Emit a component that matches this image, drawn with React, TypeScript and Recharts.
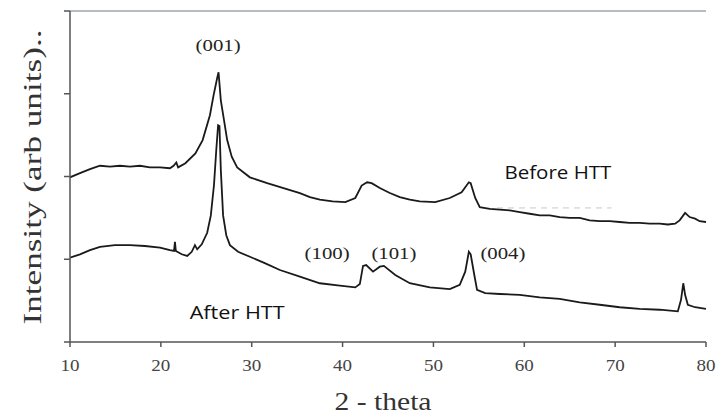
import React from 'react';
import { LineChart, Line, XAxis, YAxis, ReferenceLine, ReferenceDot } from 'recharts';

const xTicks = [10, 20, 30, 40, 50, 60, 70, 80];
const yTicks = [0, 1, 2, 3, 4];

const beforeTheta = [10, 11.1, 12.2, 13.3, 14.4, 15.5, 16.6, 17.7, 18.8, 19.9, 21.0, 21.4, 21.7, 21.9, 22.7, 23.8, 24.6, 25.4, 25.8, 26.2, 26.35, 26.6, 26.95, 27.3, 27.8, 28.4, 29.8, 31.7, 33.5, 35.3, 36.4, 37.5, 38.9, 40.3, 41.4, 42.1, 42.7, 43.2, 44.1, 45.2, 46.3, 47.4, 48.5, 50.2, 51.8, 53.1, 53.9, 54.1, 54.6, 55.1, 56.2, 57.3, 58.4, 59.5, 60.6, 61.7, 62.8, 63.9, 65.0, 66.1, 67.2, 68.3, 69.4, 70.5, 71.6, 72.7, 73.8, 74.9, 75.8, 76.6, 77.1, 77.7, 78.2, 78.8, 79.3, 80];
const beforeVal = [1.99, 2.04, 2.09, 2.13, 2.12, 2.13, 2.12, 2.13, 2.11, 2.11, 2.10, 2.13, 2.17, 2.11, 2.16, 2.28, 2.44, 2.74, 2.98, 3.19, 3.26, 2.92, 2.68, 2.44, 2.24, 2.11, 1.99, 1.92, 1.86, 1.80, 1.75, 1.72, 1.70, 1.69, 1.74, 1.89, 1.93, 1.92, 1.86, 1.80, 1.75, 1.72, 1.70, 1.69, 1.74, 1.81, 1.93, 1.92, 1.74, 1.63, 1.61, 1.60, 1.59, 1.57, 1.55, 1.53, 1.53, 1.51, 1.50, 1.50, 1.47, 1.46, 1.46, 1.45, 1.44, 1.44, 1.43, 1.43, 1.42, 1.43, 1.47, 1.56, 1.51, 1.49, 1.46, 1.45];

const afterTheta = [10, 11.1, 12.2, 13.3, 14.95, 16.6, 18.25, 19.9, 21.0, 21.45, 21.55, 21.65, 22.3, 22.9, 23.4, 23.75, 24.0, 24.5, 25.1, 25.5, 25.85, 26.1, 26.3, 26.45, 26.6, 26.85, 27.2, 27.6, 28.5, 29.8, 31.5, 33.1, 35.3, 37.5, 39.7, 41.4, 41.9, 42.25, 42.6, 43.35, 44.1, 44.55, 45.8, 47.4, 49.6, 51.8, 52.9, 53.5, 53.9, 54.1, 54.5, 54.8, 55.7, 57.3, 59.5, 61.7, 63.9, 66.1, 68.3, 70.5, 72.7, 74.9, 76.9, 77.25, 77.5, 77.7, 78.0, 78.8, 80];
const afterVal = [1.02, 1.06, 1.11, 1.15, 1.17, 1.17, 1.16, 1.14, 1.11, 1.10, 1.21, 1.10, 1.06, 1.04, 1.09, 1.17, 1.12, 1.18, 1.32, 1.53, 1.90, 2.32, 2.62, 2.61, 2.08, 1.53, 1.29, 1.17, 1.09, 1.03, 0.95, 0.87, 0.79, 0.71, 0.68, 0.66, 0.70, 0.92, 0.93, 0.85, 0.91, 0.92, 0.81, 0.71, 0.66, 0.64, 0.69, 0.85, 1.09, 1.06, 0.81, 0.63, 0.59, 0.58, 0.57, 0.54, 0.52, 0.48, 0.45, 0.42, 0.40, 0.39, 0.37, 0.51, 0.71, 0.57, 0.45, 0.42, 0.40];

const beforeData = beforeTheta.map((t, i) => ({ theta: t, v: beforeVal[i] }));
const afterData = afterTheta.map((t, i) => ({ theta: t, v: afterVal[i] }));

const peakLabels = [
  { text: '(001)', theta: 26.3, y: 3.59 },
  { text: '(100)', theta: 38.3, y: 1.08 },
  { text: '(101)', theta: 45.65, y: 1.08 },
  { text: '(004)', theta: 57.65, y: 1.08 },
];
const sampleLabels = [
  { text: 'Before HTT', theta: 63.7, y: 2.05, len: 107 },
  { text: 'After HTT', theta: 28.4, y: 0.36, len: 95 },
];

const serif = '"Liberation Serif", "Times New Roman", serif';
const sans = '"Open Sans", "Noto Sans", sans-serif';

const XTick = (props: any) => {
  const { x, y, payload } = props;
  return (
    <text x={x} y={y} dy={18} textAnchor="middle" fill="#444" fontSize={16} fontFamily={serif} textLength={19} lengthAdjust="spacingAndGlyphs">
      {payload.value}
    </text>
  );
};

export default function App() {
  return (
    <div style={{ position: 'absolute', left: 0, top: 0, background: '#fff' }}>
      <LineChart width={716} height={416} margin={{ top: 11, right: 10, left: 10, bottom: 0 }}>
        <XAxis
          dataKey="theta"
          type="number"
          domain={[10, 80]}
          ticks={xTicks}
          allowDataOverflow
          height={74}
          stroke="#555"
          strokeWidth={1.5}
          tickSize={5}
          tickMargin={6}
          tick={<XTick />}
          label={{
            content: ({ viewBox }: any) => (
              <text x={viewBox.x + viewBox.width / 2 - 5} y={410} textAnchor="middle" fill="#333" fontSize={26} fontFamily={serif} textLength={97} lengthAdjust="spacingAndGlyphs">
                2 - theta
              </text>
            ),
          }}
        />
        <YAxis
          yAxisId="l"
          domain={[0, 4]}
          ticks={yTicks}
          width={60}
          stroke="#555"
          strokeWidth={1.5}
          tickSize={6}
          tickFormatter={() => ''}
          label={{
            content: () => (
              <text transform="rotate(-90 32 177)" x={32} y={177} dy={9} textAnchor="middle" fill="#333" fontSize={26} fontFamily={serif} textLength={295} lengthAdjust="spacingAndGlyphs">
                Intensity (arb units)..
              </text>
            ),
          }}
        />
        <YAxis
          yAxisId="r"
          orientation="right"
          domain={[0, 4]}
          ticks={yTicks}
          width={0}
          stroke="#555"
          strokeWidth={1.5}
          tickSize={5}
          tickFormatter={() => ''}
        />
        <ReferenceLine yAxisId="l" y={4} stroke="#b4bcc4" strokeWidth={2} />
        <ReferenceLine
          yAxisId="l"
          segment={[{ x: 57, y: 1.62 }, { x: 69.6, y: 1.62 }]}
          stroke="#c8c8c8"
          strokeDasharray="6 5"
        />
        <Line yAxisId="l" data={beforeData} dataKey="v" type="linear" stroke="#1a1a1a" strokeWidth={1.8} dot={false} isAnimationActive={false} />
        <Line yAxisId="l" data={afterData} dataKey="v" type="linear" stroke="#1a1a1a" strokeWidth={1.8} dot={false} isAnimationActive={false} />
        {peakLabels.map((p) => (
          <ReferenceDot
            key={p.text}
            yAxisId="l"
            x={p.theta}
            y={p.y}
            r={0}
            shape={(s: any) => (
              <text x={s.cx} y={s.cy} dy={6} textAnchor="middle" fill="#222" fontSize={17} fontFamily={serif} textLength={45} lengthAdjust="spacingAndGlyphs">
                {p.text}
              </text>
            )}
          />
        ))}
        {sampleLabels.map((p) => (
          <ReferenceDot
            key={p.text}
            yAxisId="l"
            x={p.theta}
            y={p.y}
            r={0}
            shape={(s: any) => (
              <text x={s.cx} y={s.cy} dy={7} textAnchor="middle" fill="#111" fontSize={19} fontFamily={sans} textLength={p.len} lengthAdjust="spacingAndGlyphs">
                {p.text}
              </text>
            )}
          />
        ))}
      </LineChart>
    </div>
  );
}
